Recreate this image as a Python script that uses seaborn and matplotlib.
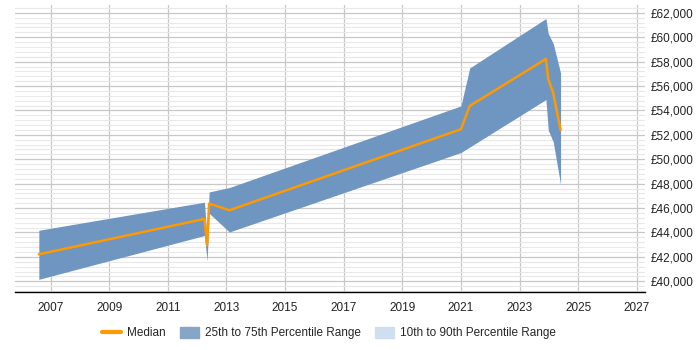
import numpy as np
import pandas as pd
import matplotlib.pyplot as plt
import seaborn as sns
from matplotlib.ticker import FuncFormatter, MultipleLocator
from matplotlib.patches import Patch
from matplotlib.lines import Line2D

# values
years = [2006.6, 2012.25, 2012.34, 2012.41, 2013.1, 2021.0, 2021.3, 2023.9, 2023.98, 2024.15, 2024.4]
median = [42210, 45110, 42950, 46370, 45820, 52460, 54370, 58220, 56560, 55430, 52380]
p25 = [40160, 43750, 41650, 45570, 44040, 50550, 51000, 54890, 52380, 51420, 47930]
p75 = [44180, 46480, 43300, 47320, 47680, 54370, 57480, 61530, 60300, 59480, 57070]
year_ticks = np.arange(2007, 2028, 2)

df = pd.DataFrame({"year": years, "median": median, "p25": p25, "p75": p75})

sns.set_style("white")
plt.rcParams["font.family"] = ["Liberation Sans", "DejaVu Sans"]

fig, ax = plt.subplots(figsize=(7, 3.5), dpi=100)
fig.subplots_adjust(left=0.022, right=0.921, top=0.985, bottom=0.165)

# 25th-75th band + median line
ax.fill_between(df["year"], df["p25"], df["p75"], color="#6f95c1", lw=0, zorder=2)
sns.lineplot(data=df, x="year", y="median", color="#ff9900", lw=1.8, ax=ax, zorder=3)

ax.set_xlim(2005.8, 2027.27)
ax.set_ylim(39100, 62620)
ax.set_xticks(year_ticks)
ax.xaxis.set_major_formatter(FuncFormatter(lambda v, p: f"{v:.0f}"))
ax.yaxis.set_major_locator(MultipleLocator(2000))
ax.yaxis.set_minor_locator(MultipleLocator(400))
ax.yaxis.set_major_formatter(FuncFormatter(lambda v, p: f"£{v:,.0f}"))
ax.yaxis.tick_right()

ax.grid(which="major", axis="both", color="#c8c8c8", lw=0.9, zorder=0)
ax.grid(which="minor", axis="y", color="#e8e8e8", lw=0.8, zorder=0)
ax.set_axisbelow(True)
for s in ["top", "left", "right"]:
    ax.spines[s].set_visible(False)
ax.spines["bottom"].set_color("black")
ax.spines["bottom"].set_linewidth(1)
ax.tick_params(axis="both", which="both", length=0, labelsize=8.5, colors="#222222")
ax.tick_params(axis="x", pad=7)
ax.tick_params(axis="y", pad=4)
ax.set_xlabel("")
ax.set_ylabel("")

handles = [
    Line2D([0], [0], color="#ff9900", lw=3),
    Patch(color="#87a5c7"),
    Patch(color="#cfdff0"),
]
labels = ["Median", "25th to 75th Percentile Range", "10th to 90th Percentile Range"]
fig.legend(handles, labels, loc="lower center", bbox_to_anchor=(0.47, 0.0), ncol=3,
           frameon=False, fontsize=8.5, handlelength=1.6, handleheight=1.1,
           columnspacing=1.2, handletextpad=0.5)

plt.savefig("out.png")
